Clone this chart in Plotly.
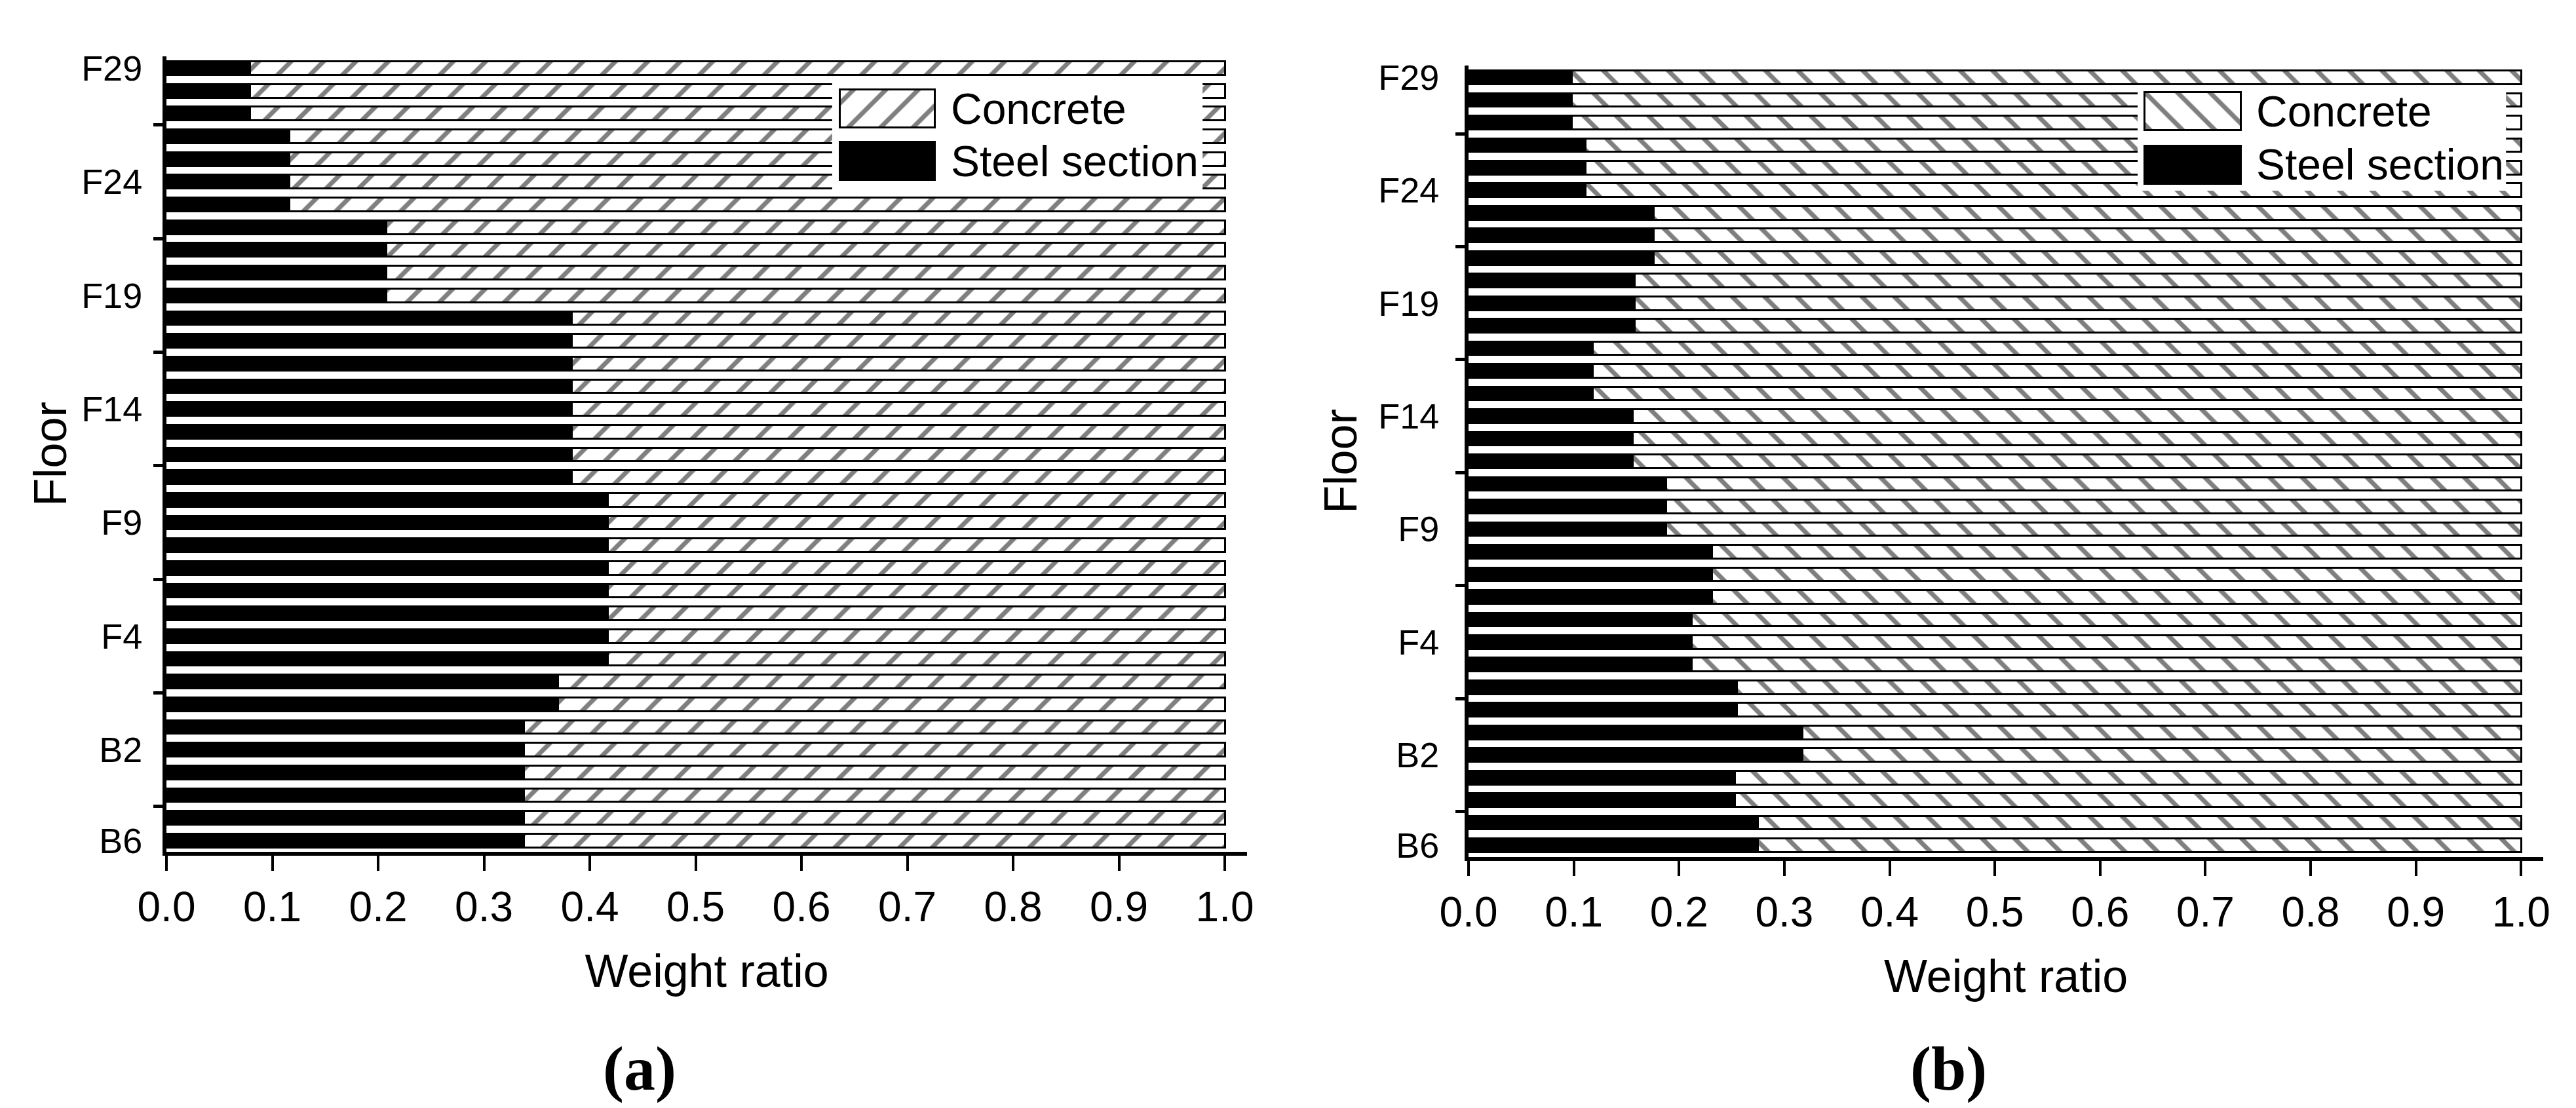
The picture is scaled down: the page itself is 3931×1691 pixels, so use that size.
import plotly.graph_objects as go

# floors from bottom (B6) to top (F29)
FLOORS = ["B6", "B5", "B4", "B3", "B2", "B1",
          "F1", "F2", "F3", "F4", "F5", "F6", "F7", "F8", "F9", "F10",
          "F11", "F12", "F13", "F14", "F15", "F16", "F17", "F18", "F19", "F20",
          "F21", "F22", "F23", "F24", "F25", "F26", "F27", "F28", "F29"]

# steel section weight ratio per floor, panel (a)
STEEL_A = [0.338, 0.338, 0.338, 0.338, 0.338, 0.338,
           0.370, 0.370,
           0.417, 0.417, 0.417, 0.417, 0.417, 0.417, 0.417, 0.417,
           0.383, 0.383, 0.383, 0.383, 0.383, 0.383, 0.383, 0.383,
           0.208, 0.208, 0.208, 0.208,
           0.116, 0.116, 0.116, 0.116,
           0.079, 0.079, 0.079]

# steel section weight ratio per floor, panel (b)
STEEL_B = [0.275, 0.275, 0.253, 0.253, 0.317, 0.317,
           0.255, 0.255,
           0.212, 0.212, 0.212,
           0.231, 0.231, 0.231,
           0.188, 0.188, 0.188,
           0.156, 0.156, 0.156,
           0.118, 0.118, 0.118,
           0.158, 0.158, 0.158,
           0.176, 0.176, 0.176,
           0.111, 0.111, 0.111,
           0.098, 0.098, 0.098]

TICK_FLOORS = ["B6", "B2", "F4", "F9", "F14", "F19", "F24", "F29"]
GROUP_EDGES = [1.5, 6.5, 11.5, 16.5, 21.5, 26.5, 31.5]
X_TICKS = [0.0, 0.1, 0.2, 0.3, 0.4, 0.5, 0.6, 0.7, 0.8, 0.9, 1.0]
SERIES = ["Concrete", "Steel section"]
PANEL_LABELS = ["(a)", "(b)"]

W, H = 3931, 1691
SANS = "Liberation Sans, Arial, sans-serif"

ypos = list(range(len(FLOORS)))
tickvals = [FLOORS.index(f) for f in TICK_FLOORS]

panels = [
    dict(steel=STEEL_A, hatch="/", xd=[0.06258, 0.48207], yd=[0.2360, 0.9539],
         yr=[-0.49, 34.52], standoff=20, title_standoff=2, label_x=0.2462,
         leg_xd=[0.3210, 0.4648], leg_yd=[0.8303, 0.9338],
         leg_xr=[-0.083, 3.814], leg_yr=[-0.6125, 1.575], leg_w=0.725),
    dict(steel=STEEL_B, hatch="\\", xd=[0.56805, 0.98525], yd=[0.2312, 0.9456],
         yr=[-0.52, 34.52], standoff=28, title_standoff=12, label_x=0.7545,
         leg_xd=[0.8278, 0.9708], leg_yd=[0.8326, 0.9279],
         leg_xr=[-0.068, 3.755], leg_yr=[-0.494, 1.494], leg_w=0.716),
]

fig = go.Figure()
layout = {}
annotations = []

for i, p in enumerate(panels):
    n = i + 1
    xa, ya = ("x", "y") if n == 1 else (f"x{n}", f"y{n}")
    concrete = [round(1 - s, 3) for s in p["steel"]]
    pattern = dict(shape=p["hatch"], fgcolor="black", bgcolor="white",
                   size=35, solidity=0.2)

    fig.add_trace(go.Bar(
        y=ypos, x=p["steel"], orientation="h", width=0.6, name=SERIES[1],
        marker=dict(color="black", line=dict(color="black", width=3)),
        xaxis=xa, yaxis=ya, showlegend=False))
    fig.add_trace(go.Bar(
        y=ypos, x=concrete, orientation="h", width=0.6, name=SERIES[0],
        marker=dict(color="white", line=dict(color="black", width=3), pattern=pattern),
        xaxis=xa, yaxis=ya, showlegend=False))

    xkey = "xaxis" if n == 1 else f"xaxis{n}"
    ykey = "yaxis" if n == 1 else f"yaxis{n}"
    layout[xkey] = dict(
        domain=p["xd"], anchor=ya, range=[0, 1.021], automargin=False,
        showline=True, linewidth=6, linecolor="black",
        ticks="outside", ticklen=23, tickwidth=4, tickcolor="black",
        tickvals=X_TICKS, tickformat=".1f",
        tickfont=dict(family=SANS, size=64, color="black"),
        showgrid=False, zeroline=False,
        title=dict(text="Weight ratio", font=dict(family=SANS, size=70, color="black"),
                   standoff=40))
    layout[ykey] = dict(
        domain=p["yd"], anchor=xa, range=p["yr"], automargin=False,
        showline=True, linewidth=6, linecolor="black",
        ticks="", tickvals=tickvals, ticktext=TICK_FLOORS,
        ticklabelstandoff=p["standoff"],
        tickfont=dict(family=SANS, size=54, color="black"),
        minor=dict(tickvals=GROUP_EDGES, ticks="outside", ticklen=14,
                   tickwidth=5, tickcolor="black", showgrid=False),
        showgrid=False, zeroline=False,
        title=dict(text="Floor", font=dict(family=SANS, size=70, color="black"),
                   standoff=p["title_standoff"]))

    # legend drawn as an inset so the swatches match the original size
    m = n + 2
    lx, ly = f"x{m}", f"y{m}"
    fig.add_trace(go.Bar(
        y=[SERIES[0]], x=[1], orientation="h", width=p["leg_w"],
        marker=dict(color="white", line=dict(color="black", width=3), pattern=pattern),
        xaxis=lx, yaxis=ly, showlegend=False, hoverinfo="skip"))
    fig.add_trace(go.Bar(
        y=[SERIES[1]], x=[1], orientation="h", width=p["leg_w"],
        marker=dict(color="black", line=dict(color="black", width=3)),
        xaxis=lx, yaxis=ly, showlegend=False, hoverinfo="skip"))
    layout[f"xaxis{m}"] = dict(domain=p["leg_xd"], anchor=ly, range=p["leg_xr"],
                               automargin=False,
                               showline=False, showticklabels=False, showgrid=False,
                               zeroline=False, ticks="")
    layout[f"yaxis{m}"] = dict(domain=p["leg_yd"], anchor=lx, range=p["leg_yr"],
                               automargin=False,
                               type="category", categoryarray=SERIES[::-1],
                               categoryorder="array",
                               showline=False, showticklabels=False, showgrid=False,
                               zeroline=False, ticks="")
    for name in SERIES:
        annotations.append(dict(
            xref=lx, yref=ly, x=1, y=SERIES[::-1].index(name), text=name,
            xanchor="left", yanchor="middle", xshift=22, showarrow=False,
            font=dict(family=SANS, size=66, color="black")))

    annotations.append(dict(
        xref="paper", yref="paper", x=p["label_x"], y=0.0408,
        text=f"<b>{PANEL_LABELS[i]}</b>", showarrow=False,
        xanchor="center", yanchor="middle",
        font=dict(family="Liberation Serif, Times New Roman, serif", size=96, color="black")))

fig.update_layout(
    width=W, height=H, autosize=False,
    margin=dict(l=0, r=0, t=0, b=0),
    barmode="stack",
    paper_bgcolor="white", plot_bgcolor="white",
    showlegend=False,
    annotations=annotations,
    **layout)

fig.write_html("out.html")
